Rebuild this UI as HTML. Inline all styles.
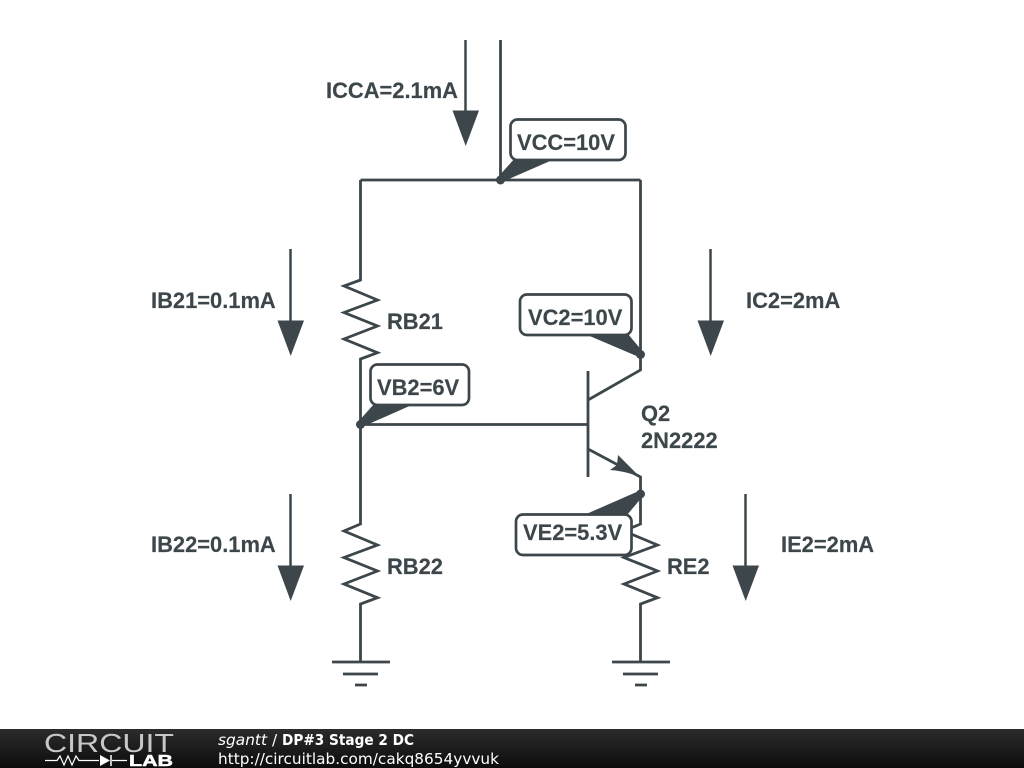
<!DOCTYPE html>
<html><head><meta charset="utf-8"><style>
html,body{margin:0;padding:0;background:#fff}
svg{display:block}
.t{font-family:"Liberation Sans",sans-serif;font-weight:bold;font-size:21.9px;fill:#3c464b;stroke:#3c464b;stroke-width:.15}
.w{fill:none;stroke:#3c464b;stroke-width:2.8;stroke-linejoin:miter}
.a{fill:none;stroke:#3c464b;stroke-width:2.5}
.h{fill:#3c464b}
.b{fill:#fff;stroke:#3c464b;stroke-width:2.7}
.f{font-family:"DejaVu Sans",sans-serif;font-size:15.3px;fill:#fff}
</style></head><body>
<svg width="1024" height="768" viewBox="0 0 1024 768" xmlns="http://www.w3.org/2000/svg">
<defs><linearGradient id="g" x1="0" y1="0" x2="0" y2="1"><stop offset="0" stop-color="#2c2c2c"/><stop offset="1" stop-color="#0c0c0c"/></linearGradient></defs>
<rect width="1024" height="768" fill="#fff"/>
<!-- wires -->
<path class="w" d="M500.5 40V180M360.5 180H640.5M640.5 180V370L588 400M360.5 180V280L344 286L377.5 300L344 312.5L377.5 326L344 339L377.5 352.7L360.5 359V524L344 531L377.5 545L344 557.5L377.5 571L344 584L377.500 597.700L360.500 604V662M360.500 424.500H588M588 371V477M588 449L640.500 477V524L624 531L657.500 545L624 557.500L657.500 571L624 584L657.500 597.700L640.500 604V662"/>
<path class="w" d="M332 662H390M343 674H378M355 685H367M612 662H670M623 674H658M635 685H647"/>
<path class="h" d="M618 455L640 477Q625 471 610 470L617 465Z"/>
<!-- current arrows -->
<path class="a" d="M465.500 40V112M290.500 249V322M710.500 249V322M290.500 494V567M745.500 494V567"/>
<path class="h" d="M452.500 110.500H479L465.700 146ZM277.500 320.500H304L290.700 356ZM697.500 320.500H724L710.700 356ZM277.500 565.500H304L290.700 601ZM732.500 565.500H759L745.700 601Z"/>
<!-- callouts -->
<path class="h" d="M515 158L557 158L502 182L498 177ZM585 334H628L643 352L639 357ZM374 404H414L362 427L358 422ZM584 515H627L643 496L639 491Z"/>
<circle class="h" cx="500.500" cy="180" r="4.500"/><circle class="h" cx="640.500" cy="354.500" r="4.500"/><circle class="h" cx="360.500" cy="424.500" r="4.500"/><circle class="h" cx="640.500" cy="494" r="4.500"/>
<rect class="b" x="510.500" y="119.500" width="115" height="40.500" rx="7"/>
<rect class="b" x="520" y="294.500" width="111.500" height="40.500" rx="7"/>
<rect class="b" x="370.500" y="364.500" width="98.500" height="40.500" rx="7"/>
<rect class="b" x="516" y="514.500" width="115.500" height="40.500" rx="7"/>
<!-- labels -->
<text class="t" x="326" y="98">ICCA=2.1mA</text>
<text class="t" x="517" y="150">VCC=10V</text>
<text class="t" x="151" y="308">IB21=0.1mA</text>
<text class="t" x="387" y="329">RB21</text>
<text class="t" x="528" y="325">VC2=10V</text>
<text class="t" x="746" y="308">IC2=2mA</text>
<text class="t" x="377" y="395">VB2=6V</text>
<text class="t" x="641" y="421">Q2</text>
<text class="t" x="641" y="448">2N2222</text>
<text class="t" x="523" y="540">VE2=5.3V</text>
<text class="t" x="151" y="552">IB22=0.1mA</text>
<text class="t" x="387" y="574">RB22</text>
<text class="t" x="667" y="574">RE2</text>
<text class="t" x="781" y="552">IE2=2mA</text>
<!-- footer -->
<rect x="0" y="729" width="1024" height="39" fill="url(#g)"/>
<text x="44" y="752" font-family="Liberation Sans,sans-serif" font-size="26" textLength="130" lengthAdjust="spacingAndGlyphs" fill="#c8c8c8">CIRCUIT</text>
<path d="M45 760.500H57L60 756L64 765L68 756L72 765L76 756L79 760.500H99M112 760.500H127" fill="none" stroke="#fff" stroke-width="1.200"/>
<path d="M100 755V766L110 760.500Z" fill="#fff"/><path d="M111 755V766" stroke="#fff" stroke-width="1.500"/>
<text x="129" y="766" font-family="Liberation Sans,sans-serif" font-weight="bold" font-size="15.500" textLength="44" lengthAdjust="spacingAndGlyphs" fill="#fff" stroke="#fff" stroke-width=".5">LAB</text>
<text class="f" x="218" y="745" font-style="italic" textLength="49" lengthAdjust="spacingAndGlyphs">sgantt</text>
<text class="f" x="272" y="745">/</text>
<text class="f" x="282" y="745" font-weight="bold" textLength="132" lengthAdjust="spacingAndGlyphs">DP#3 Stage 2 DC</text>
<text class="f" x="218" y="764" textLength="281" lengthAdjust="spacingAndGlyphs">http://circuitlab.com/cakq8654yvvuk</text>
</svg>
</body></html>
